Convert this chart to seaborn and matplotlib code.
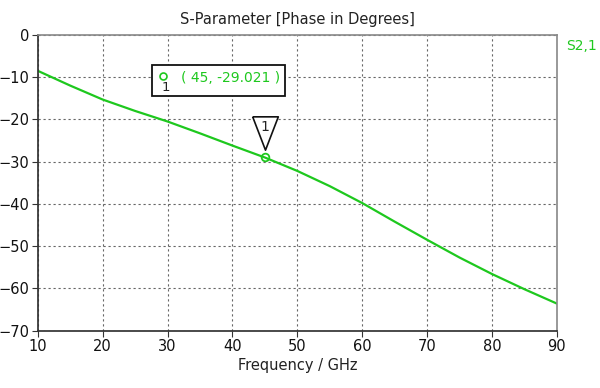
import numpy as np
import pandas as pd
import matplotlib.pyplot as plt
from matplotlib.patches import Rectangle
from matplotlib.transforms import ScaledTranslation
import seaborn as sns

sns.set_theme(style="white")
plt.rcParams['font.family'] = ['DejaVu Sans']

# values
freq = [10, 15, 20, 25, 30, 35, 40, 45, 50, 55, 60, 65, 70, 75, 80, 85, 90]
phase = [-8.5, -12.0, -15.3, -18.0, -20.5, -23.3, -26.2, -29.021, -32.2,
         -35.8, -39.8, -44.2, -48.5, -52.7, -56.6, -60.2, -63.6]
marker_freq = 45
marker_phase = -29.021
xticks = [10, 20, 30, 40, 50, 60, 70, 80, 90]
yticks = [0, -10, -20, -30, -40, -50, -60, -70]

green = "#1ec81e"
df = pd.DataFrame({"Frequency / GHz": freq, "Phase": phase})

fig = plt.figure(figsize=(6, 3.88), dpi=100)
ax = fig.add_axes([0.063, 0.148, 0.865, 0.762])

sns.lineplot(data=df, x="Frequency / GHz", y="Phase", color=green, lw=1.6, ax=ax)

ax.set_xlim(10, 90)
ax.set_ylim(-70, 0)
ax.set_xticks(xticks)
ax.set_yticks(yticks)
ax.tick_params(axis="both", labelsize=10.5, length=4, width=0.8, color="#333333",
               direction="out", bottom=True, left=True, pad=2, labelcolor="#111111")
ax.grid(True, linestyle=(0, (2, 2.5)), color="#666666", lw=0.8)
for side in ["left", "bottom"]:
    ax.spines[side].set_color("#333333")
for side in ["top", "right"]:
    ax.spines[side].set_color("#888888")
    ax.spines[side].set_linewidth(1.2)
ax.set_ylabel("")
ax.set_xlabel("Frequency / GHz", fontsize=10.5, color="#222222", labelpad=3)
ax.set_title("S-Parameter [Phase in Degrees]", fontsize=10.5, color="#222222", pad=8)

# marker point on the curve
ax.plot([marker_freq], [marker_phase], marker="o", ms=5.5, mfc="none", mec=green, mew=1.3, zorder=4)

# inverted triangle flag above the marker
tri = [(-1, 1.3), (1, 1.3), (0, -1.3), (-1, 1.3)]
shift = ax.transData + ScaledTranslation(0, 17.5 / 72, fig.dpi_scale_trans)
ax.plot([marker_freq], [marker_phase], marker=tri, ms=24, mfc="white", mec="#111111",
        mew=1.2, transform=shift, zorder=5)
ax.annotate("1", xy=(marker_freq, marker_phase), xytext=(0, 22), textcoords="offset points",
            ha="center", va="center", fontsize=10, color="#222222", zorder=6)

# readout box
ax.add_patch(Rectangle((0.220, 0.793), 0.256, 0.105, transform=ax.transAxes,
                       facecolor="white", edgecolor="#111111", lw=1.3, zorder=6))
ax.plot([0.241], [0.861], marker="o", ms=5, mfc="none", mec=green, mew=1.2,
        transform=ax.transAxes, zorder=7)
ax.text(0.247, 0.822, "1", transform=ax.transAxes, ha="center", va="center",
        fontsize=9.5, color="#222222", zorder=7)
ax.text(0.276, 0.855, f"( {marker_freq}, {marker_phase} )", transform=ax.transAxes,
        ha="left", va="center", fontsize=10, color=green, zorder=7)

fig.text(0.943, 0.881, "S2,1", color=green, fontsize=10, ha="left", va="center")

fig.savefig("out.png", dpi=100)
